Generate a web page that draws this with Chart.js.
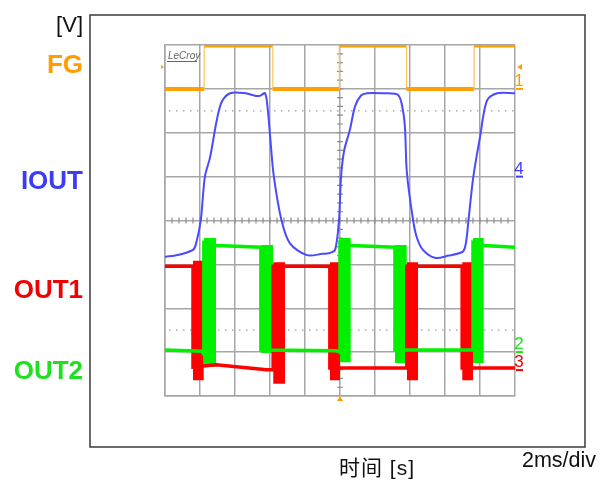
<!DOCTYPE html>
<html>
<head>
<meta charset="utf-8">
<script src="https://cdn.jsdelivr.net/npm/chart.js@4.4.0/dist/chart.umd.min.js"></script>
<style>
body{margin:0;background:#fff;}
#wrap{position:relative;width:612px;height:482px;}
.lbl{position:absolute;font-family:"Liberation Sans",Arial,sans-serif;color:#111;white-space:nowrap;line-height:1;}
</style>
</head>
<body>
<div id="wrap">
<canvas id="scope" width="612" height="482"></canvas>
<div class="lbl" style="right:529px;top:14px;font-size:22px;">[V]</div>
<div class="lbl" style="left:339px;top:457px;font-size:21px;letter-spacing:1px;font-family:'Liberation Sans','Noto Sans CJK SC',sans-serif;">时间 [s]</div>
<div class="lbl" style="left:522px;top:450px;font-size:21.5px;">2ms/div</div>
</div>
<script>
// scope screen: x in divisions (2 ms/div), y in divisions
var channelNames = ['FG', 'IOUT', 'OUT1', 'OUT2'];
var channelPos = [7.52, 4.88, 2.40, 0.55];
var channelColors = ['#ff9c00', '#3c3cf2', '#f00000', '#1ee01e'];

var fgX = [0, 1.12, 1.12, 3.08, 3.08, 4.98, 4.98, 6.90, 6.90, 8.83, 8.83, 10];
var fgY = [7.0, 7.0, 7.97, 7.97, 7.0, 7.0, 7.97, 7.97, 7.0, 7.0, 7.97, 7.97];

var ioutX = [0, 0.4, 0.8, 0.88, 1.02, 1.14, 1.29, 1.48, 1.62, 1.86, 2.3, 2.6, 2.71, 2.86, 2.94, 3.02, 3.11, 3.33, 3.57, 4.05, 4.5, 4.71, 4.86,
             4.97, 5.03, 5.12, 5.28, 5.43, 5.6, 5.77, 6.2, 6.66, 6.8, 6.86, 6.91, 7.09, 7.2, 7.37, 7.71, 8.1, 8.51, 8.6, 8.67, 8.81, 9.0, 9.2, 9.49, 10];
var ioutY = [3.17, 3.22, 3.33, 3.45, 3.99, 5.0, 5.45, 6.29, 6.7, 6.9, 6.9, 6.84, 6.84, 6.9, 6.5, 5.76, 5.0, 4.0, 3.48, 3.21, 3.24, 3.26, 3.33,
             3.99, 5.0, 5.6, 6.06, 6.6, 6.85, 6.9, 6.9, 6.86, 6.5, 6.06, 5.1, 4.0, 3.6, 3.33, 3.15, 3.2, 3.29, 3.5, 4.0, 5.0, 5.9, 6.74, 6.9, 6.9];

var out1X = [0, 0.80, 0.80, 1.46, 2.90, 3.09, 3.09, 4.71, 4.71, 6.91, 6.91, 8.49, 8.49, 10];
var out1Y = [2.96, 2.96, 0.66, 0.71, 0.60, 0.60, 2.96, 2.96, 0.64, 0.64, 2.96, 2.96, 0.64, 0.64];

var out2X = [0, 1.05, 1.11, 1.11, 1.46, 2.74, 2.74, 4.90, 5.00, 5.00, 5.31, 6.57, 6.57, 8.80, 8.80, 9.11, 10];
var out2Y = [1.05, 1.02, 0.95, 3.50, 3.43, 3.39, 1.05, 1.03, 1.00, 3.50, 3.43, 3.39, 1.05, 1.05, 3.50, 3.43, 3.39];

var redBurstStart = [0.80, 3.09, 4.71, 6.91, 8.49];
var redBurstEnd = [1.11, 3.43, 5.00, 7.23, 8.80];
var redBurstTop = [3.08, 3.05, 3.05, 3.05, 3.05];
var redBurstLow = [0.36, 0.28, 0.36, 0.36, 0.36];

var greenBurstStart = [1.11, 2.74, 5.00, 6.57, 8.80];
var greenBurstEnd = [1.46, 3.09, 5.31, 6.91, 9.11];
var greenBurstTop = [3.60, 3.44, 3.60, 3.44, 3.60];
var greenBurstLow = [0.66, 0.98, 0.77, 0.75, 0.75];

var markerLabels = ['1', '4', '2', '3'];
var markerLevels = [7.0, 5.0, 1.0, 0.59];
var markerColors = ['#ff9c00', '#3c3cf2', '#1ee01e', '#f00000'];
var triggerLevel = 7.5;
var dottedLevels = [6.5, 1.5];

function pts(xs, ys) {
  return xs.map(function (x, i) { return {x: x, y: ys[i]}; });
}

var gridColor = '#a6a6a6';
var datasets = [];

datasets.push({
  label: 'IOUT', data: pts(ioutX, ioutY), borderColor: '#4a4aff', borderWidth: 2,
  pointRadius: 0, tension: 0.3, order: 0
});
datasets.push({
  label: 'FG', data: pts(fgX, fgY), borderColor: '#ffa000', pointRadius: 0, order: 1,
  segment: {
    borderWidth: function (c) {
      if (c.p0.parsed.x === c.p1.parsed.x) return 1.2;
      return c.p0.parsed.y > 7.5 ? 2.5 : 4;
    },
    borderColor: function (c) {
      return c.p0.parsed.x === c.p1.parsed.x ? '#ffc45a' : '#ffa000';
    }
  }
});
datasets.push({
  label: 'OUT2', data: pts(out2X, out2Y), borderColor: '#00f000', borderWidth: 3.5,
  pointRadius: 0, order: 2
});
datasets.push({
  label: 'OUT1', data: pts(out1X, out1Y), borderColor: '#ff0000', borderWidth: 3.5,
  pointRadius: 0, order: 3
});
for (var i = 0; i < greenBurstStart.length; i++) {
  datasets.push({
    label: 'OUT2 burst', data: pts([greenBurstStart[i], greenBurstEnd[i]], [greenBurstTop[i], greenBurstTop[i]]),
    borderWidth: 0, pointRadius: 0, backgroundColor: '#00f000',
    fill: {value: greenBurstLow[i]}, order: 4
  });
}
for (var j = 0; j < redBurstStart.length; j++) {
  datasets.push({
    label: 'OUT1 burst', data: pts([redBurstStart[j], redBurstEnd[j]], [redBurstTop[j], redBurstTop[j]]),
    borderWidth: 0, pointRadius: 0, backgroundColor: '#ff0000',
    fill: {value: redBurstLow[j]}, order: 5
  });
}

var scopeExtras = {
  id: 'scopeExtras',
  beforeDatasetsDraw: function (chart) {
    var c = chart.ctx, a = chart.chartArea, x = chart.scales.x, y = chart.scales.y;
    c.save();
    // dotted level lines
    c.strokeStyle = '#9a9a9a';
    c.lineWidth = 1.2;
    c.setLineDash([1.5, 5.5]);
    dottedLevels.forEach(function (v) {
      var py = y.getPixelForValue(v);
      c.beginPath(); c.moveTo(a.left + 4, py); c.lineTo(a.right, py); c.stroke();
    });
    c.setLineDash([]);
    // small ticks on the center cross
    var cx = x.getPixelForValue(5), cy = y.getPixelForValue(4);
    c.strokeStyle = '#8c8c8c';
    c.beginPath();
    for (var k = 1; k < 50; k++) {
      var px = x.getPixelForValue(k * 0.2);
      c.moveTo(px, cy - 3); c.lineTo(px, cy + 3);
    }
    for (var m = 1; m < 40; m++) {
      var py = y.getPixelForValue(m * 0.2);
      c.moveTo(cx - 3, py); c.lineTo(cx + 3, py);
    }
    c.stroke();
    // logo
    c.fillStyle = '#666';
    c.font = 'italic 10px "Liberation Sans"';
    c.textBaseline = 'alphabetic';
    c.fillText('LeCroy', a.left + 3, a.top + 14);
    c.fillRect(a.left + 2, a.top + 16, 30, 1);
    c.restore();
  },
  afterDraw: function (chart) {
    var c = chart.ctx, a = chart.chartArea, x = chart.scales.x, y = chart.scales.y;
    c.save();
    // outer frame
    c.strokeStyle = '#3a3a3a';
    c.lineWidth = 1.5;
    c.strokeRect(90, 15, 495, 432);
    // channel ground markers
    c.font = '17px "Liberation Sans"';
    c.textAlign = 'center';
    c.textBaseline = 'alphabetic';
    for (var i = 0; i < markerLabels.length; i++) {
      var py = y.getPixelForValue(markerLevels[i]);
      c.fillStyle = markerColors[i];
      c.fillText(markerLabels[i], a.right + 4, py - 3);
      c.fillRect(a.right + 1, py - 1, 7, 2);
    }
    // trigger markers
    var ty = y.getPixelForValue(triggerLevel);
    c.fillStyle = '#ff9c00';
    c.beginPath(); c.moveTo(a.right + 2, ty); c.lineTo(a.right + 7, ty - 3); c.lineTo(a.right + 7, ty + 3); c.fill();
    c.beginPath(); c.moveTo(a.left - 1, ty); c.lineTo(a.left - 4, ty - 2); c.lineTo(a.left - 4, ty + 2); c.fill();
    var tx = x.getPixelForValue(5);
    c.beginPath(); c.moveTo(tx, a.bottom); c.lineTo(tx - 3, a.bottom + 5); c.lineTo(tx + 3, a.bottom + 5); c.fill();
    c.restore();
  }
};

var myChart = new Chart(document.getElementById('scope').getContext('2d'), {
  type: 'line',
  data: {datasets: datasets},
  options: {
    responsive: false,
    animation: false,
    layout: {padding: {top: 45, right: 97, bottom: 86, left: 0}},
    plugins: {legend: {display: false}, tooltip: {enabled: false}},
    scales: {
      x: {
        type: 'linear', min: 0, max: 10,
        ticks: {display: false, stepSize: 1},
        grid: {color: gridColor, lineWidth: 1.5, drawTicks: false},
        border: {color: gridColor, width: 1.5},
        afterFit: function (s) { s.height = 0; }
      },
      y: {
        type: 'linear', position: 'left', min: 0, max: 8,
        ticks: {display: false, stepSize: 1},
        grid: {color: gridColor, lineWidth: 1.5, drawTicks: false},
        border: {color: gridColor, width: 1.5},
        afterFit: function (s) { s.width = 0; }
      },
      yl: {
        type: 'linear', position: 'left', min: 0, max: 8,
        afterBuildTicks: function (s) {
          s.ticks = channelPos.map(function (v) { return {value: v}; });
        },
        ticks: {
          autoSkip: false,
          padding: 82,
          callback: function (v, i) { return channelNames[i]; },
          color: function (c) { return channelColors[c.index]; },
          font: {family: 'Liberation Sans', size: 26, weight: 'bold'}
        },
        grid: {display: false, drawTicks: false},
        border: {display: false},
        afterFit: function (s) {
          s.width = 165;
          s.paddingTop = 0;
          s.paddingBottom = 0;
        }
      }
    }
  },
  plugins: [scopeExtras]
});
</script>
</body>
</html>
